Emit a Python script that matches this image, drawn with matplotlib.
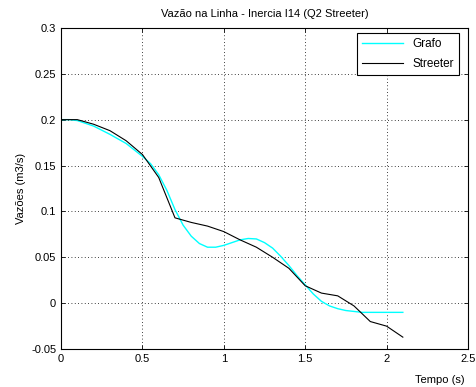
import numpy as np
import matplotlib.pyplot as plt

plt.rcParams['font.family'] = ['Liberation Sans', 'DejaVu Sans']
plt.rcParams['font.size'] = 8

# Streeter solution (black)
t_streeter = [0, 0.1, 0.2, 0.3, 0.4, 0.5, 0.6, 0.7, 0.8, 0.9, 1.0, 1.1, 1.2, 1.3,
              1.4, 1.5, 1.6, 1.7, 1.8, 1.9, 2.0, 2.1]
q_streeter = [0.2, 0.2, 0.195, 0.188, 0.177, 0.162, 0.137, 0.093, 0.088, 0.084,
              0.078, 0.069, 0.061, 0.050, 0.038, 0.019, 0.011, 0.008, -0.003,
              -0.020, -0.025, -0.037]

# Grafo solution (cyan)
t_grafo = [0, 0.05, 0.1, 0.2, 0.3, 0.4, 0.5, 0.55, 0.6, 0.65, 0.7, 0.75, 0.8,
           0.85, 0.9, 0.95, 1.0, 1.05, 1.1, 1.15, 1.2, 1.25, 1.3, 1.35, 1.4,
           1.45, 1.5, 1.55, 1.6, 1.65, 1.7, 1.75, 1.8, 1.85, 1.9, 2.0, 2.1]
q_grafo = [0.2, 0.2, 0.199, 0.193, 0.184, 0.174, 0.160, 0.152, 0.140, 0.123,
           0.102, 0.085, 0.073, 0.065, 0.061, 0.061, 0.063, 0.066, 0.069,
           0.0705, 0.070, 0.066, 0.060, 0.051, 0.041, 0.030, 0.020, 0.010,
           0.002, -0.003, -0.006, -0.008, -0.009, -0.010, -0.010, -0.010, -0.010]

fig = plt.figure(figsize=(4.77, 3.87), dpi=100)
ax = fig.add_axes([0.128, 0.098, 0.853, 0.830])

ax.plot(t_grafo, q_grafo, color='cyan', lw=1, label='Grafo')
ax.plot(t_streeter, q_streeter, color='black', lw=0.8, label='Streeter')

ax.set_xlim(0, 2.5)
ax.set_ylim(-0.05, 0.3)
ax.set_xticks(np.arange(0, 2.51, 0.5))
ax.set_yticks(np.arange(-0.05, 0.301, 0.05))
ax.set_xticklabels(['0', '0.5', '1', '1.5', '2', '2.5'])
ax.set_yticklabels(['-0.05', '0', '0.05', '0.1', '0.15', '0.2', '0.25', '0.3'])
ax.tick_params(direction='in', top=True, right=True, length=3, width=0.6)
ax.grid(True, linestyle=(0, (1, 3)), color='black', lw=0.6)
for s in ax.spines.values():
    s.set_linewidth(0.8)

ax.set_title('Vazão na Linha - Inercia I14 (Q2 Streeter)', fontsize=8, pad=8)
ax.set_ylabel('Vazões (m3/s)', labelpad=4)
ax.set_xlabel('Tempo (s)')
ax.xaxis.set_label_coords(0.93, -0.08)

leg = ax.legend(loc='upper right', bbox_to_anchor=(0.978, 0.984), borderaxespad=0,
                fancybox=False, edgecolor='black', framealpha=1, fontsize=8.5,
                handlelength=3.5, labelspacing=0.7)
leg.get_frame().set_linewidth(0.8)

fig.savefig('out.png', dpi=100, facecolor='white')
